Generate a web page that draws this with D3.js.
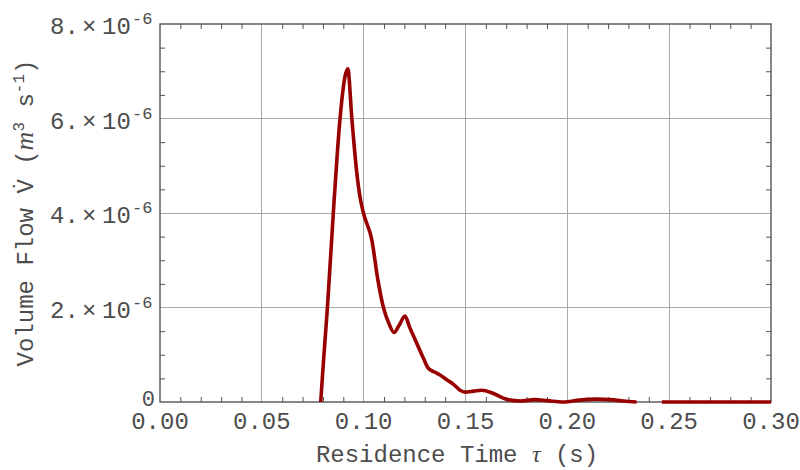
<!DOCTYPE html>
<html>
<head>
<meta charset="utf-8">
<script src="https://cdn.jsdelivr.net/npm/d3@7"></script>
<style>
  html, body { margin: 0; padding: 0; background: #fff; }
  svg { display: block; }
</style>
</head>
<body>
<svg id="chart" width="800" height="470"></svg>
<script>
// ---- data (residence time in s, volume flow in m^3/s) ----
const tau = [0.0789, 0.0805, 0.0822, 0.0851, 0.0884, 0.0909, 0.0922, 0.0942, 0.0965, 0.0982,
             0.0999, 0.1040, 0.1070, 0.1097, 0.1125, 0.1149, 0.1175, 0.1203, 0.1225, 0.1260,
             0.1293, 0.1318, 0.1345, 0.1375, 0.1408, 0.1440, 0.1473, 0.1498, 0.1540, 0.1580,
             0.1637, 0.1700, 0.1768, 0.1840, 0.1900, 0.1980, 0.2060, 0.2145, 0.2210, 0.2276,
             0.2340, 0.2400, 0.2464, 0.3000];
const flow = [0, 1.0e-6, 2.0e-6, 4.0e-6, 6.0e-6, 6.9e-6, 7.05e-6, 6.0e-6, 4.9e-6, 4.34e-6,
              4.0e-6, 3.43e-6, 2.58e-6, 2.0e-6, 1.65e-6, 1.47e-6, 1.63e-6, 1.82e-6, 1.59e-6, 1.25e-6,
              0.93e-6, 0.71e-6, 0.64e-6, 0.57e-6, 0.47e-6, 0.38e-6, 0.25e-6, 0.21e-6, 0.23e-6, 0.25e-6,
              0.18e-6, 0.06e-6, 0.02e-6, 0.05e-6, 0.03e-6, 0.0, 0.04e-6, 0.06e-6, 0.05e-6, 0.02e-6,
              0.0, null, 0, 0];
const xTicks = [0.00, 0.05, 0.10, 0.15, 0.20, 0.25, 0.30];
const xTickLabels = ["0.00", "0.05", "0.10", "0.15", "0.20", "0.25", "0.30"];
const yTicks = [0, 2e-6, 4e-6, 6e-6, 8e-6];
const yTickMantissa = ["0", "2.", "4.", "6.", "8."];
const xMinor = d3.range(0, 31).map(i => i / 100);
const yMinor = d3.range(0, 17).map(i => i * 0.5e-6);

// ---- layout ----
const L = 160, R = 771, T = 24, B = 402;
const svg = d3.select("#chart");
const x = d3.scaleLinear().domain([0, 0.30]).range([L, R]);
const y = d3.scaleLinear().domain([0, 8e-6]).range([B, T]);

const mono = "'Liberation Mono', 'Courier New', monospace";
const textCol = "#4d4d4d";
const frameCol = "#555";

// gridlines
svg.append("g").selectAll("line").data(xTicks.slice(1, -1)).join("line")
  .attr("x1", d => x(d)).attr("x2", d => x(d)).attr("y1", T).attr("y2", B)
  .attr("stroke", "#a8a8a8").attr("stroke-width", 1).attr("shape-rendering", "crispEdges");
svg.append("g").selectAll("line").data(yTicks.slice(1, -1)).join("line")
  .attr("y1", d => y(d)).attr("y2", d => y(d)).attr("x1", L).attr("x2", R)
  .attr("stroke", "#a8a8a8").attr("stroke-width", 1).attr("shape-rendering", "crispEdges");

// ticks (inward) on all four sides
function styleAxis(g) {
  g.select(".domain").remove();
  g.selectAll("line").attr("stroke", frameCol).attr("stroke-width", 1);
  g.selectAll("text").remove();
}
const minorX = xMinor.filter(v => Math.round(v * 100) % 5 !== 0);
const minorY = yMinor.filter((v, i) => i % 4 !== 0);
svg.append("g").attr("transform", `translate(0,${B})`)
  .call(d3.axisBottom(x).tickValues(minorX).tickSize(-5).tickFormat("")).call(styleAxis);
svg.append("g").attr("transform", `translate(0,${T})`)
  .call(d3.axisTop(x).tickValues(minorX).tickSize(-5).tickFormat("")).call(styleAxis);
svg.append("g").attr("transform", `translate(${L},0)`)
  .call(d3.axisLeft(y).tickValues(minorY).tickSize(-5).tickFormat("")).call(styleAxis);
svg.append("g").attr("transform", `translate(${R},0)`)
  .call(d3.axisRight(y).tickValues(minorY).tickSize(-5).tickFormat("")).call(styleAxis);

// frame
svg.append("rect").attr("x", L).attr("y", T).attr("width", R - L).attr("height", B - T)
  .attr("fill", "none").attr("stroke", frameCol).attr("stroke-width", 1.4);

// curve
const pts = tau.map((t, i) => ({ t, v: flow[i] }));
const line = d3.line()
  .defined(d => d.v !== null)
  .x(d => x(d.t)).y(d => y(d.v))
  .curve(d3.curveMonotoneX);
svg.append("path").datum(pts)
  .attr("d", line)
  .attr("fill", "none")
  .attr("stroke", "#980000")
  .attr("stroke-width", 3.6)
  .attr("stroke-linejoin", "round")
  .attr("stroke-linecap", "butt");

// x tick labels
svg.append("g").selectAll("text").data(xTicks).join("text")
  .attr("x", d => x(d)).attr("y", 429)
  .attr("text-anchor", "middle")
  .attr("font-family", mono).attr("font-size", 24)
  .attr("fill", textCol)
  .text((d, i) => xTickLabels[i]);

// y tick labels
const yl = svg.append("g");
yTicks.forEach((v, i) => {
  const yy = y(v);
  if (v === 0) {
    yl.append("text").attr("x", 155).attr("y", yy + 4).attr("text-anchor", "end")
      .attr("font-family", mono).attr("font-size", 22).attr("fill", textCol).text("0");
    return;
  }
  const t = yl.append("text").attr("y", yy + 10)
    .attr("font-family", mono).attr("font-size", 24).attr("fill", textCol);
  t.append("tspan").attr("x", 50).text(yTickMantissa[i]);
  t.append("tspan").attr("x", 82).text("\u00D7");
  t.append("tspan").attr("x", 102).text("10");
  t.append("tspan").attr("x", 132).attr("dy", -10).attr("font-size", 17).text("-6");
});

// x axis title
const xt = svg.append("text").attr("x", 457).attr("y", 462).attr("text-anchor", "middle")
  .attr("font-family", mono).attr("font-size", 24).attr("fill", textCol);
xt.append("tspan").text("Residence Time ");
xt.append("tspan").attr("font-family", "'Liberation Serif', serif").attr("font-style", "italic").text("\u03C4");
xt.append("tspan").text(" (s)");

// y axis title
const yt = svg.append("text")
  .attr("transform", `translate(33,${(T + B) / 2}) rotate(-90)`)
  .attr("text-anchor", "middle")
  .attr("font-family", mono).attr("font-size", 24).attr("fill", textCol);
yt.append("tspan").text("Volume Flow V\u0307 (");
yt.append("tspan").attr("font-family", "'Liberation Serif', serif").attr("font-style", "italic").attr("font-size", 26).text("m");
yt.append("tspan").attr("dy", -9).attr("font-size", 16).text("3");
yt.append("tspan").attr("dy", 9).text(" s");
yt.append("tspan").attr("dy", -9).attr("font-size", 16).text("-1");
yt.append("tspan").attr("dy", 9).text(")");
</script>
</body>
</html>
